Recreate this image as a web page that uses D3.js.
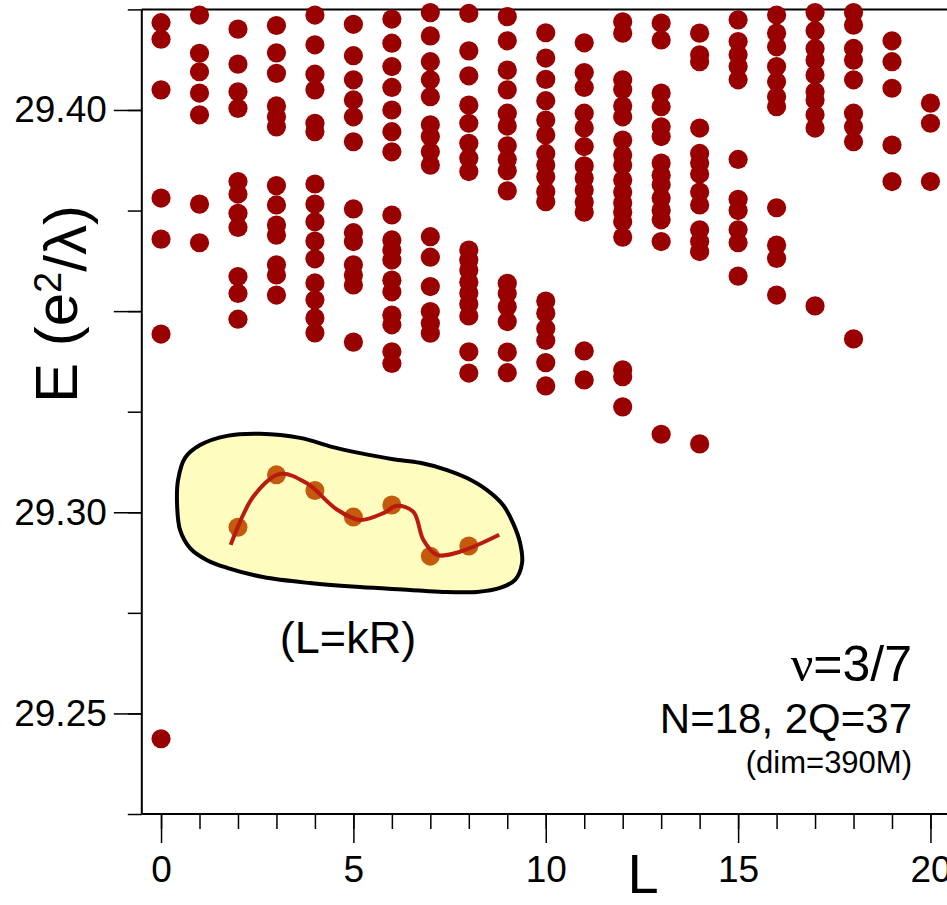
<!DOCTYPE html>
<html>
<head>
<meta charset="utf-8">
<script src="https://cdn.jsdelivr.net/npm/d3@7"></script>
<style>
  html, body { margin: 0; padding: 0; background: #fff; }
  svg { display: block; }
  text { font-family: "Liberation Sans", Arial, sans-serif; fill: #000; }
</style>
</head>
<body>
<svg id="chart" width="947" height="905"></svg>
<script>
// Angular momentum values (x categories)
const L_VALUES = [0, 1, 2, 3, 4, 5, 6, 7, 8, 9, 10, 11, 12, 13, 14, 15, 16, 17, 18, 19, 20];

// Energy levels E (e^2/lambda) found in each L sector
const ENERGIES = [
  [29.4217, 29.4176, 29.4050, 29.3781, 29.3679, 29.3443, 29.2437],
  [29.4236, 29.4141, 29.4095, 29.4042, 29.3988, 29.3766, 29.3670],
  [29.4201, 29.4114, 29.4045, 29.4004, 29.3822, 29.3791, 29.3743, 29.3708, 29.3586, 29.3544, 29.3480],
  [29.4210, 29.4142, 29.4091, 29.4010, 29.3983, 29.3958, 29.3812, 29.3764, 29.3714, 29.3689, 29.3615, 29.3590, 29.3540],
  [29.4236, 29.4162, 29.4089, 29.4050, 29.3967, 29.3946, 29.3816, 29.3766, 29.3722, 29.3674, 29.3630, 29.3570, 29.3528, 29.3483, 29.3446],
  [29.4213, 29.4135, 29.4075, 29.4025, 29.3983, 29.3921, 29.3754, 29.3695, 29.3673, 29.3615, 29.3590, 29.3565, 29.3423],
  [29.4226, 29.4166, 29.4108, 29.4056, 29.4000, 29.3946, 29.3896, 29.3739, 29.3677, 29.3652, 29.3627, 29.3577, 29.3548, 29.3490, 29.3466, 29.3399, 29.3370],
  [29.4242, 29.4184, 29.4120, 29.4075, 29.4033, 29.3963, 29.3934, 29.3896, 29.3863, 29.3685, 29.3634, 29.3561, 29.3499, 29.3470, 29.3445],
  [29.4240, 29.4147, 29.4085, 29.4012, 29.3967, 29.3917, 29.3880, 29.3847, 29.3652, 29.3627, 29.3602, 29.3572, 29.3545, 29.3518, 29.3488, 29.3399, 29.3346],
  [29.4232, 29.4172, 29.4099, 29.4050, 29.3992, 29.3960, 29.3911, 29.3877, 29.3849, 29.3799, 29.3569, 29.3544, 29.3511, 29.3474, 29.3398, 29.3347],
  [29.4192, 29.4129, 29.4076, 29.4023, 29.3975, 29.3938, 29.3892, 29.3863, 29.3834, 29.3797, 29.3772, 29.3525, 29.3495, 29.3457, 29.3427, 29.3372, 29.3314],
  [29.4167, 29.4093, 29.4056, 29.3992, 29.3955, 29.3909, 29.3861, 29.3831, 29.3801, 29.3771, 29.3746, 29.3401, 29.3329],
  [29.4219, 29.4191, 29.4075, 29.4051, 29.4010, 29.3983, 29.3925, 29.3888, 29.3863, 29.3826, 29.3796, 29.3769, 29.3746, 29.3722, 29.3684, 29.3354, 29.3337, 29.3262],
  [29.4216, 29.4174, 29.4042, 29.4008, 29.3958, 29.3934, 29.3868, 29.3838, 29.3814, 29.3781, 29.3751, 29.3727, 29.3673, 29.3194],
  [29.4191, 29.4137, 29.4120, 29.3955, 29.3892, 29.3868, 29.3841, 29.3796, 29.3764, 29.3702, 29.3673, 29.3648, 29.3170],
  [29.4224, 29.4170, 29.4137, 29.4108, 29.4075, 29.3877, 29.3778, 29.3750, 29.3702, 29.3670, 29.3587],
  [29.4236, 29.4191, 29.4157, 29.4108, 29.4070, 29.4033, 29.4008, 29.3757, 29.3664, 29.3631, 29.3540],
  [29.4242, 29.4197, 29.4153, 29.4124, 29.4087, 29.4045, 29.4025, 29.3988, 29.3955, 29.3513],
  [29.4242, 29.4211, 29.4153, 29.4124, 29.4075, 29.3992, 29.3958, 29.3921, 29.3431],
  [29.4172, 29.4120, 29.4054, 29.3913, 29.3822],
  [29.4017, 29.3967, 29.3822]
];

// Inset: lowest branch (L = kR) levels and the guide curve drawn through them
const BRANCH_L = [2, 3, 4, 5, 6, 7, 8];
const BRANCH_E = [29.2963, 29.3093, 29.3054, 29.2988, 29.3018, 29.2891, 29.2916];
const CURVE_L = [1.81, 2.40, 3.09, 3.79, 4.57, 5.17, 5.78, 6.13, 6.56, 6.82, 7.17, 7.77, 8.79];
const CURVE_E = [29.2919, 29.3039, 29.3095, 29.3072, 29.3007, 29.2981, 29.2998, 29.3016, 29.3001, 29.2931, 29.2894, 29.2902, 29.2944];

// Outline of the highlighted region around the inset branch
const BLOB_L = [0.624, 1.014, 1.716, 2.573, 3.613, 4.471, 5.173, 6.031, 6.733, 7.435, 7.954, 8.474, 8.890, 9.150, 9.332,
                9.384, 9.202, 8.812, 8.214, 7.330, 6.473, 5.173, 3.873, 2.651, 1.716, 1.196, 0.754, 0.494, 0.416, 0.442];
const BLOB_E = [29.3135, 29.3167, 29.3190, 29.3195, 29.3185, 29.3162, 29.3147, 29.3132, 29.3123, 29.3105, 29.3085, 29.3055, 29.3018, 29.2973, 29.2924,
                29.2874, 29.2832, 29.2812, 29.2802, 29.2802, 29.2807, 29.2814, 29.2824, 29.2839, 29.2862, 29.2881, 29.2911, 29.2956, 29.3023, 29.3080];

// Axis ticks
const X_MAJOR_TICKS = [0, 5, 10, 15, 20];
const Y_MINOR_TICKS = [29.225, 29.25, 29.275, 29.30, 29.325, 29.35, 29.375, 29.40, 29.425];
const Y_MAJOR_TICKS = [29.25, 29.30, 29.35, 29.40];
const Y_TICK_LABELS = [29.25, 29.30, 29.40];

const svg = d3.select("#chart");

const x = d3.scaleLinear().domain([-0.5, 20.5]).range([141.8, 949.7]);
const y = d3.scaleLinear().domain([29.225, 29.425]).range([814, 9.4]);

const axisG = svg.append("g");

// bottom axis: minor ticks at every L, long labelled ticks every 5
const xMinor = axisG.append("g")
  .attr("transform", `translate(0,${y(29.225)})`)
  .call(d3.axisBottom(x).tickValues(L_VALUES).tickSize(15).tickFormat(""));
const xMajor = axisG.append("g")
  .attr("transform", `translate(0,${y(29.225)})`)
  .call(d3.axisBottom(x).tickValues(X_MAJOR_TICKS).tickSize(29).tickPadding(12.5).tickFormat(d3.format("d")));

// left axis: minor ticks every 0.025, long ticks every 0.05
const yMinor = axisG.append("g")
  .attr("transform", `translate(${x(-0.5)},0)`)
  .call(d3.axisLeft(y).tickValues(Y_MINOR_TICKS).tickSize(14).tickFormat(""));
const yMajor = axisG.append("g")
  .attr("transform", `translate(${x(-0.5)},0)`)
  .call(d3.axisLeft(y).tickValues(Y_MAJOR_TICKS).tickSize(28).tickPadding(7)
    .tickFormat(d => Y_TICK_LABELS.includes(d) ? d.toFixed(2) : ""));

axisG.selectAll(".domain").attr("stroke", "#000").attr("stroke-width", 2);
axisG.selectAll(".tick line").attr("stroke", "#000").attr("stroke-width", 1.5);
axisG.selectAll(".tick text")
  .style("font-family", '"Liberation Sans", Arial, sans-serif')
  .style("font-size", "37px").attr("fill", "#000");
// the minor axes carry no domain line of their own
xMinor.select(".domain").remove();
yMinor.select(".domain").remove();
xMajor.select(".domain").attr("d", `M${x(-0.5)},0H${x(20.5)}`);
yMajor.select(".domain").attr("d", `M0,${y(29.225)}V${y(29.425)}`);

// top frame line
axisG.append("line")
  .attr("x1", x(-0.5)).attr("x2", x(20.5))
  .attr("y1", y(29.425)).attr("y2", y(29.425))
  .attr("stroke", "#000").attr("stroke-width", 2);

// energy levels
const points = [];
L_VALUES.forEach((l, i) => ENERGIES[i].forEach(e => points.push({ l, e })));
svg.append("g").selectAll("circle")
  .data(points)
  .join("circle")
  .attr("cx", d => x(d.l))
  .attr("cy", d => y(d.e))
  .attr("r", 9.6)
  .attr("fill", "#990000");

// inset: highlighted branch
const blobLine = d3.line()
  .x(d => x(d[0])).y(d => y(d[1]))
  .curve(d3.curveCatmullRomClosed.alpha(0.5));
svg.append("path")
  .attr("d", blobLine(BLOB_L.map((l, i) => [l, BLOB_E[i]])))
  .attr("fill", "#fffcbf")
  .attr("stroke", "#000")
  .attr("stroke-width", 4)
  .attr("stroke-linejoin", "round");

svg.append("g").selectAll("circle")
  .data(BRANCH_L.map((l, i) => ({ l, e: BRANCH_E[i] })))
  .join("circle")
  .attr("cx", d => x(d.l))
  .attr("cy", d => y(d.e))
  .attr("r", 9.5)
  .attr("fill", "#c35a0c");

const guide = d3.line()
  .x(d => x(d[0])).y(d => y(d[1]))
  .curve(d3.curveCatmullRom.alpha(0.5));
svg.append("path")
  .attr("d", guide(CURVE_L.map((l, i) => [l, CURVE_E[i]])))
  .attr("fill", "none")
  .attr("stroke", "#b81c10")
  .attr("stroke-width", 4)
  .attr("stroke-linecap", "butt");

svg.append("text")
  .attr("x", 348).attr("y", 653)
  .attr("text-anchor", "middle")
  .style("font-size", "45px")
  .text("(L=kR)");

// axis titles
const yTitle = svg.append("text")
  .attr("transform", "translate(77,304) rotate(-90)")
  .attr("text-anchor", "middle")
  .style("font-size", "60px");
yTitle.append("tspan").text("E (e");
yTitle.append("tspan").attr("dy", "-0.42em").style("font-size", "38px").text("2");
yTitle.append("tspan").attr("dy", "0.42em").text("/λ)");

svg.append("text")
  .attr("x", 643).attr("y", 893)
  .attr("text-anchor", "middle")
  .style("font-size", "56px")
  .text("L");

// system description
const nu = svg.append("text")
  .attr("x", 912).attr("y", 681)
  .attr("text-anchor", "end")
  .style("font-size", "50px");
nu.append("tspan").style("font-family", '"Liberation Serif", "DejaVu Serif", serif').text("ν");
nu.append("tspan").text("=3/7");

svg.append("text")
  .attr("x", 912).attr("y", 733)
  .attr("text-anchor", "end")
  .style("font-size", "42px")
  .text("N=18, 2Q=37");

svg.append("text")
  .attr("x", 912).attr("y", 773)
  .attr("text-anchor", "end")
  .style("font-size", "31px")
  .text("(dim=390M)");
</script>
</body>
</html>
